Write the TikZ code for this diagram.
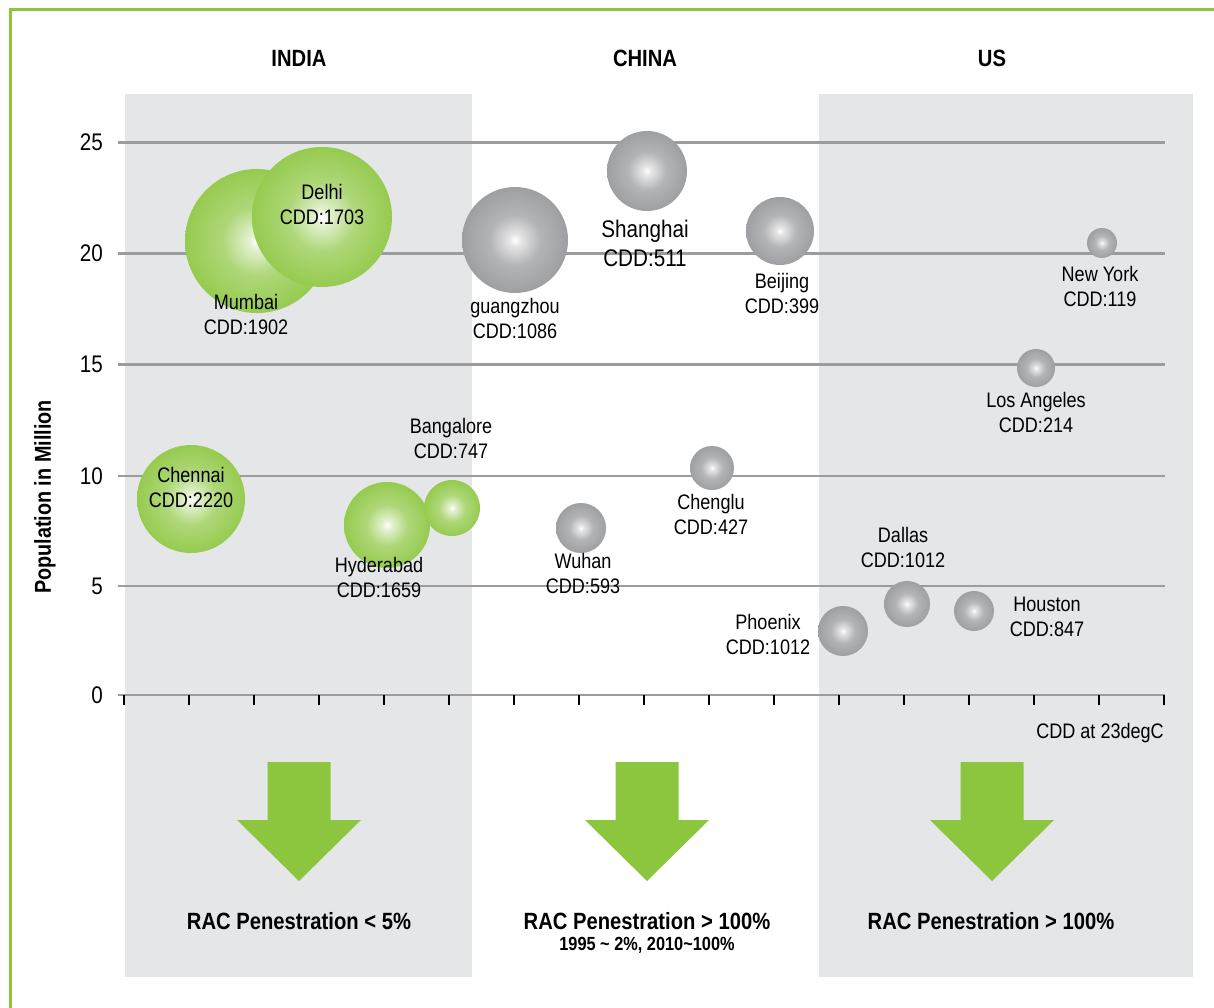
\documentclass[tikz,border=0pt]{standalone}
\usepackage{fontspec}
\setmainfont[FakeStretch=0.86]{Liberation Sans}
\definecolor{frameg}{HTML}{8CC63F}
\definecolor{bgreen}{HTML}{8CC63F}
\definecolor{bgray}{HTML}{939497}
\definecolor{panel}{HTML}{E5E6E8}
\definecolor{gridc}{HTML}{9C9C9C}
\pgfdeclareradialshading{gball}{\pgfpoint{0bp}{0bp}}{color(0bp)=(white); color(3bp)=(bgreen!25!white); color(12bp)=(bgreen!70!white); color(30bp)=(bgreen); color(50bp)=(bgreen)}
\pgfdeclareradialshading{sball}{\pgfpoint{0bp}{0bp}}{color(0bp)=(white); color(3bp)=(bgray!25!white); color(12bp)=(bgray!70!white); color(32bp)=(bgray); color(50bp)=(bgray)}
\tikzset{
  gb/.style={circle, inner sep=0pt, shading=gball, minimum size=#1},
  sb/.style={circle, inner sep=0pt, shading=sball, minimum size=#1},
  lbl/.style={align=center, inner sep=0pt, font=\fontsize{21}{25}\selectfont},
  hdr/.style={inner sep=0pt, font=\fontsize{23.5}{28}\selectfont\bfseries},
  ylab/.style={anchor=east, inner sep=0pt, font=\fontsize{24}{28}\selectfont},
  gridl/.style={draw=gridc, line width=2.5pt},
  tickl/.style={draw=black, line width=2.5pt},
  arr/.style={fill=bgreen},
}
\begin{document}
\begin{tikzpicture}[x=1pt,y=-1pt]
\useasboundingbox[fill=white] (0,0) rectangle (1214,1008);
% frame
\draw[frameg, line width=3pt] (10,1012) -- (10,10) -- (1218,10);
% panels
\fill[panel] (125,94) rectangle (472,977);
\fill[panel] (819,94) rectangle (1193,977);
% headers
\node[hdr] (hIndia) at (299,58) {INDIA};
\node[hdr] (hChina) at (645,58) {CHINA};
\node[hdr] (hUS) at (992,58) {US};
% grid lines and y labels
\foreach \v/\y in {25/142.5,20/253.5,15/364.5,10/476,5/586} {
  \draw[gridl] (118,\y) -- (1165,\y);
  \node[ylab] (y\v) at (103,\y) {\v};
}
\draw[gridl] (118,695) -- (1165,695);
\node[ylab] (y0) at (103,695) {0};
\foreach \i in {0,...,16} {
  \draw[tickl] (124+65*\i,695) -- (124+65*\i,705);
}
\node[inner sep=0pt, rotate=90, font=\fontsize{23}{28}\selectfont\bfseries] (ytitle) at (45,497) {Population in Million};
\node[lbl, anchor=east] (xtitle) at (1164,733) {CDD at 23degC};
% bubbles
\node[gb=144pt] (mumbai) at (257,241) {};
\node[gb=140pt] (delhi) at (322,217) {};
\node[gb=108pt] (chennai) at (191,499) {};
\node[gb=86pt] (hyderabad) at (387,525) {};
\node[gb=56pt] (bangalore) at (452,508) {};
\node[sb=106pt] (guangzhou) at (515,240) {};
\node[sb=80pt] (shanghai) at (647,171) {};
\node[sb=68pt] (beijing) at (780,231) {};
\node[sb=30pt] (newyork) at (1102,243) {};
\node[sb=38pt] (losangeles) at (1036,368) {};
\node[sb=44pt] (chenglu) at (712,468) {};
\node[sb=50pt] (wuhan) at (581,528) {};
\node[sb=50pt] (phoenix) at (843,631) {};
\node[sb=46pt] (dallas) at (907,604) {};
\node[sb=40pt] (houston) at (974,611) {};
% labels
\node[lbl] (delhiL) at (322,204) {Delhi\\CDD:1703};
\node[lbl] (mumbaiL) at (246,314) {Mumbai\\CDD:1902};
\node[lbl] (guangzhouL) at (515,318) {guangzhou\\CDD:1086};
\node[lbl, font=\fontsize{24}{29}\selectfont] (shanghaiL) at (645,243) {Shanghai\\CDD:511};
\node[lbl] (beijingL) at (782,293) {Beijing\\CDD:399};
\node[lbl] (newyorkL) at (1100,286) {New York\\CDD:119};
\node[lbl] (losangelesL) at (1036,412) {Los Angeles\\CDD:214};
\node[lbl] (bangaloreL) at (451,438) {Bangalore\\CDD:747};
\node[lbl] (chennaiL) at (191,487) {Chennai\\CDD:2220};
\node[lbl] (hyderabadL) at (379,577) {Hyderabad\\CDD:1659};
\node[lbl] (wuhanL) at (583,573) {Wuhan\\CDD:593};
\node[lbl] (chengluL) at (711,514) {Chenglu\\CDD:427};
\node[lbl] (dallasL) at (903,547) {Dallas\\CDD:1012};
\node[lbl] (phoenixL) at (768,634) {Phoenix\\CDD:1012};
\node[lbl] (houstonL) at (1047,617) {Houston\\CDD:847};
% arrows
\foreach \c in {299,647,992} {
  \fill[arr] (\c-31.5,762) -- (\c+31.5,762) -- (\c+31.5,820) -- (\c+62,820) -- (\c,881) -- (\c-62,820) -- (\c-31.5,820) -- cycle;
}
% bottom texts
\node[hdr] (racIndia) at (299,921) {RAC Penestration < 5\%};
\node[hdr] (racChina) at (647,921) {RAC Penestration > 100\%};
\node[inner sep=0pt, font=\fontsize{19}{23}\selectfont\bfseries] (racChina2) at (647,945) {1995 \textasciitilde{} 2\%, 2010\textasciitilde{}100\%};
\node[hdr] (racUS) at (991,921) {RAC Penestration > 100\%};
\end{tikzpicture}
\end{document}
